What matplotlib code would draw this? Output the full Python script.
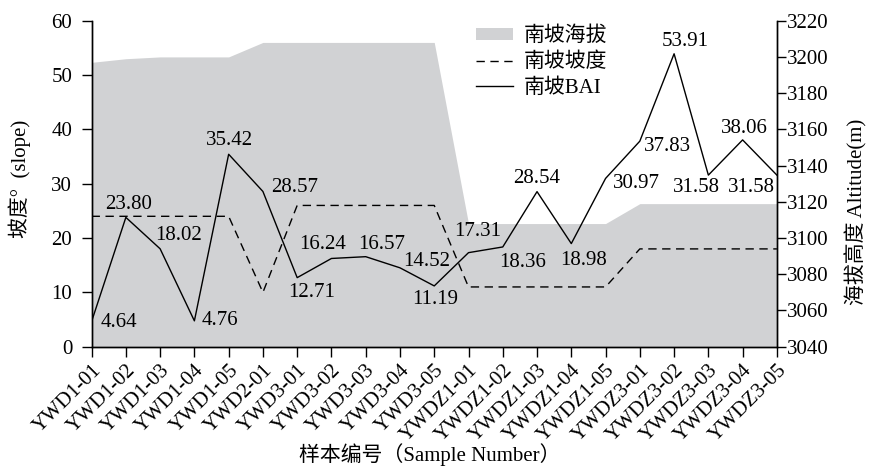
import matplotlib
matplotlib.use("Agg")
import matplotlib.pyplot as plt
from matplotlib.patches import Patch
from matplotlib.lines import Line2D
import numpy as np

plt.rcParams['font.family'] = ['Liberation Serif', 'Noto Sans CJK SC']
plt.rcParams['font.size'] = 15

# Sample numbers along the south slope
samples = ['YWD1-01', 'YWD1-02', 'YWD1-03', 'YWD1-04', 'YWD1-05', 'YWD2-01',
           'YWD3-01', 'YWD3-02', 'YWD3-03', 'YWD3-04', 'YWD3-05',
           'YWDZ1-01', 'YWDZ1-02', 'YWDZ1-03', 'YWDZ1-04', 'YWDZ1-05',
           'YWDZ3-01', 'YWDZ3-02', 'YWDZ3-03', 'YWDZ3-04', 'YWDZ3-05']
bai = [4.64, 23.80, 18.02, 4.76, 35.42, 28.57, 12.71, 16.24, 16.57, 14.52, 11.19,
       17.31, 18.36, 28.54, 18.98, 30.97, 37.83, 53.91, 31.58, 38.06, 31.58]
slope = [24, 24, 24, 24, 24, 10, 26, 26, 26, 26, 26,
         11, 11, 11, 11, 11, 18, 18, 18, 18, 18]
altitude = [3197, 3199, 3200, 3200, 3200, 3208, 3208, 3208, 3208, 3208, 3208,
            3108, 3108, 3108, 3108, 3108, 3119, 3119, 3119, 3119, 3119]

# label offsets (pixels) for the BAI values
label_offsets = [(27, -1), (3, 13), (18, 13), (26, 0), (1, 14), (32, 4), (14, -15),
                 (-9, 14), (16, 12), (27, 6), (1, -14), (9, 21), (20, -16), (0, 13),
                 (12, -17), (31, -5), (28, -5), (11, 12), (-12, -12), (2, 11), (-25, -12)]

fig = plt.figure(figsize=(8.69, 4.70), dpi=100)
ax = fig.add_axes([0.1054, 0.2623, 0.7886, 0.6937])
ax2 = ax.twinx()
x = np.arange(len(samples))

# altitude as grey area on the right axis, behind the lines
ax2.fill_between(x, 3040, altitude, color='#d1d2d4', lw=0)
ax2.set_ylim(3040, 3220)
ax2.set_yticks(np.arange(3040, 3221, 20))
ax.set_zorder(ax2.get_zorder() + 1)
ax.patch.set_visible(False)

ax.plot(x, slope, color='black', lw=1.0, ls=(0, (6, 4)))
ax.plot(x, bai, color='black', lw=1.0)
for xi, v, off in zip(x, bai, label_offsets):
    ax.annotate(f'{v:.2f}', (xi, v), xytext=off, textcoords='offset pixels',
                ha='center', va='center', fontsize=15)

ax.set_xlim(0, len(samples) - 1)
ax.set_ylim(0, 60)
ax.set_yticks(np.arange(0, 61, 10))
ax.set_xticks(x)
ax.set_xticklabels(samples, rotation=45, ha='right', va='top', rotation_mode='anchor', fontsize=15)

for a in (ax, ax2):
    a.spines['top'].set_visible(False)
    for s in ('left', 'right', 'bottom'):
        a.spines[s].set_linewidth(1.0)
ax.tick_params(axis='y', direction='out', length=7, width=1.0, pad=7)
ax.tick_params(axis='x', direction='out', length=7, width=1.0, pad=3)
ax2.tick_params(axis='y', direction='out', length=6.5, width=1.0, pad=0.5)

ax.set_ylabel('坡度°  (slope)')
ax.yaxis.set_label_coords(-0.088, 0.514)
ax2.set_ylabel('海拔高度 Altitude(m)')
ax2.yaxis.set_label_coords(1.1, 0.413)
ax.set_xlabel('样本编号（Sample Number）')
ax.xaxis.set_label_coords(0.494, -0.295)

handles = [Patch(facecolor='#d1d2d4', edgecolor='none'),
           Line2D([], [], color='black', lw=1.0, ls=(0, (6, 4))),
           Line2D([], [], color='black', lw=1.0)]
ax.legend(handles, ['南坡海拔', '南坡坡度', '南坡BAI'], loc='upper left',
          bbox_to_anchor=(0.548, 0.943), bbox_transform=fig.transFigure,
          frameon=False, borderpad=0, borderaxespad=0, handlelength=1.75,
          handleheight=0.45, handletextpad=0.55, labelspacing=0.3, fontsize=15)

fig.savefig('out.png', dpi=100)
